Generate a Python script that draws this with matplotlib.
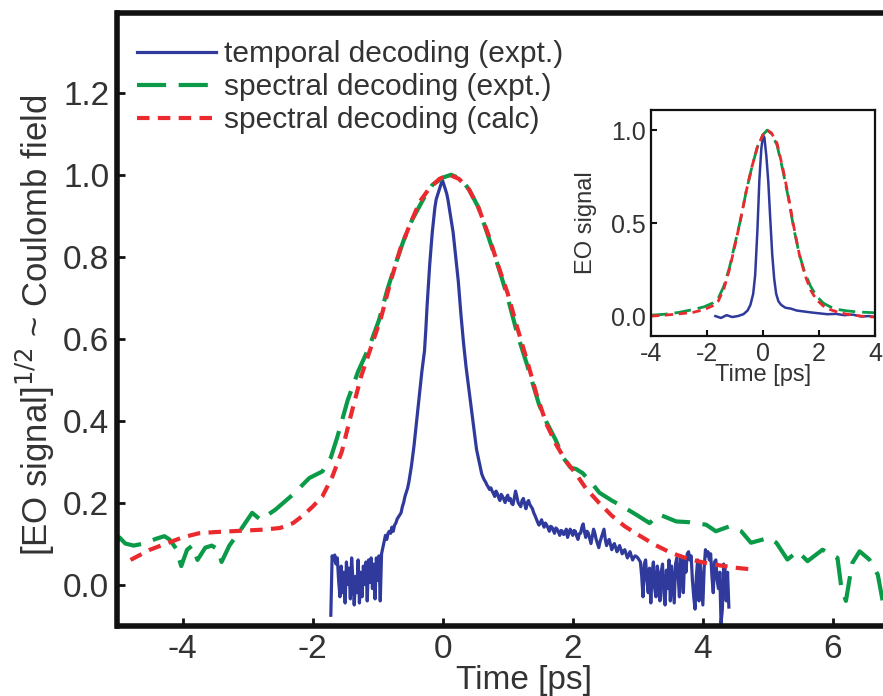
import numpy as np
import matplotlib
matplotlib.use("Agg")
import matplotlib.pyplot as plt

plt.rcParams['font.family'] = ['Liberation Sans', 'DejaVu Sans']

# ---- main panel data: sqrt(EO signal) vs time ----
# temporal decoding (expt.), sampled every 0.02 ps; stored as
# (start time, values) chunks so each part of the trace is easy to check
STEP = 0.02
blue_pre = (-1.72, [
    -0.075, 0.07, 0.06, 0.072, 0.05, 0.065, 0.01, -0.03, 0.045, -0.02,
    0.03, -0.045, 0.055, 0.0, 0.04, -0.035, 0.065, 0.01, -0.05, 0.02,
    -0.02, 0.06, -0.045, 0.03, -0.03, 0.045, 0.0, 0.055, -0.04, 0.06,
    0.005, 0.065, -0.01, 0.05, -0.035, 0.065, 0.01, 0.07, -0.04, 0.075,
])
blue_rise = (-0.92, [
    0.09, 0.105, 0.12, 0.11, 0.125, 0.13, 0.125, 0.14, 0.13, 0.145,
    0.15, 0.16, 0.165, 0.17, 0.175, 0.19, 0.20, 0.215, 0.225, 0.235,
    0.25, 0.27, 0.29, 0.315, 0.34, 0.37, 0.40, 0.43, 0.46, 0.49,
    0.52, 0.545,
])
blue_peak = (-0.28, [
    0.57, 0.62, 0.68, 0.73, 0.78, 0.82, 0.86, 0.89, 0.92, 0.94,
    0.95, 0.96, 0.97, 0.98, 0.985, 0.975, 0.965, 0.955, 0.94, 0.92,
    0.90, 0.88, 0.86, 0.83, 0.80, 0.77, 0.74, 0.70, 0.66, 0.625,
    0.59, 0.56, 0.53, 0.505, 0.48, 0.455, 0.43, 0.405, 0.38, 0.355,
    0.33, 0.315, 0.30, 0.285, 0.27,
])
blue_tail = (0.62, [
    0.262, 0.255, 0.25, 0.243, 0.238, 0.232, 0.236, 0.228, 0.222, 0.215,
    0.228, 0.222, 0.212, 0.205, 0.22, 0.215, 0.208, 0.20, 0.212, 0.218,
    0.205, 0.21, 0.198, 0.195, 0.21, 0.228, 0.215, 0.20, 0.195, 0.19,
    0.205, 0.21, 0.198, 0.185, 0.20, 0.205, 0.195, 0.19, 0.185, 0.175,
    0.168, 0.16, 0.152, 0.145, 0.15, 0.158, 0.148, 0.14, 0.15, 0.145,
    0.138, 0.13, 0.142, 0.14, 0.132, 0.125, 0.138, 0.135, 0.128, 0.12,
    0.132, 0.13, 0.122, 0.125, 0.135, 0.115, 0.125, 0.135, 0.128, 0.12,
    0.132, 0.13, 0.118, 0.11, 0.124, 0.125, 0.14, 0.148, 0.128, 0.115,
    0.13, 0.125, 0.112, 0.10, 0.118, 0.135, 0.125, 0.11, 0.10, 0.09,
    0.105, 0.115, 0.125, 0.135, 0.11, 0.095, 0.105, 0.11, 0.098, 0.085,
    0.095, 0.10, 0.09, 0.08, 0.088, 0.095, 0.085, 0.075, 0.082, 0.085,
    0.075, 0.065, 0.072, 0.08, 0.07, 0.06, 0.066, 0.07, 0.068, 0.065,
    0.06, 0.055,
])
blue_end = (3.06, [
    0.02, -0.03, 0.05, 0.06, 0.01, -0.02, 0.04, -0.045, 0.03, 0.055,
    -0.01, -0.03, 0.045, 0.02, -0.04, 0.03, 0.05, -0.02, -0.05, 0.035,
    -0.01, 0.06, -0.04, 0.045, 0.0, -0.045, 0.05, 0.065, 0.02, -0.03,
    0.07, 0.04, -0.02, 0.065, 0.03, 0.075, 0.08, 0.06, 0.07, 0.01,
    -0.03, -0.06, 0.02, 0.06, -0.04, 0.05, 0.0, -0.05, 0.04, 0.085,
    0.07, 0.08, 0.06, 0.075, 0.02, -0.02, 0.055, 0.06, 0.01, -0.01,
    0.03, -0.095, -0.06, 0.05, 0.04, -0.04, 0.03, -0.055,
])
blue_chunks = [blue_pre, blue_rise, blue_peak, blue_tail, blue_end]
blue_t = np.concatenate([np.round(t0 + STEP * np.arange(len(v)), 2)
                         for t0, v in blue_chunks])
blue_y = np.concatenate([v for _, v in blue_chunks])

# spectral decoding (expt.)
green_t = [-5.0, -4.97, -4.88, -4.75, -4.6, -4.4, -4.28, -4.2, -4.1, -4.02,
           -3.93, -3.85, -3.77, -3.65, -3.55, -3.45, -3.40, -3.28, -3.1, -2.93,
           -2.8, -2.57, -2.3, -2.05, -1.85, -1.72, -1.62, -1.46, -1.3, -1.13,
           -0.98, -0.85, -0.72, -0.6, -0.47, -0.3, -0.16, 0.0, 0.13, 0.28,
           0.41, 0.55, 0.7, 0.87, 1.0, 1.15, 1.3, 1.48, 1.6, 1.74,
           1.85, 1.97, 2.05, 2.15, 2.28, 2.41, 2.6, 2.77, 2.97, 3.18,
           3.33, 3.59, 3.8, 4.05, 4.2, 4.41, 4.59, 4.74, 5.02, 5.13,
           5.30, 5.46, 5.61, 5.84, 6.07, 6.13, 6.2, 6.25, 6.3, 6.41,
           6.56, 6.69, 6.8]
green_y = [0.105, 0.115, 0.10, 0.095, 0.10, 0.112, 0.118, 0.11, 0.088, 0.045,
           0.085, 0.095, 0.06, 0.09, 0.095, 0.085, 0.055, 0.095, 0.135, 0.175,
           0.158, 0.183, 0.22, 0.26, 0.276, 0.31, 0.36, 0.45, 0.52, 0.58,
           0.645, 0.72, 0.785, 0.84, 0.89, 0.94, 0.975, 0.993, 1.0, 0.99,
           0.963, 0.92, 0.85, 0.768, 0.70, 0.61, 0.535, 0.44, 0.395, 0.352,
           0.31, 0.285, 0.282, 0.272, 0.25, 0.224, 0.205, 0.19, 0.171, 0.15,
           0.171, 0.154, 0.152, 0.146, 0.13, 0.142, 0.13, 0.102, 0.114, 0.102,
           0.061, 0.081, 0.057, 0.085, 0.065, -0.008, -0.04, 0.008, 0.053, 0.081,
           0.061, 0.024, -0.07]

# spectral decoding (calc)
red_t = [-4.8, -4.5, -4.25, -4.0, -3.75, -3.5, -3.25, -3.0, -2.75, -2.5,
         -2.3, -2.15, -2.0, -1.85, -1.7, -1.55, -1.4, -1.25, -1.1, -0.95,
         -0.8, -0.65, -0.5, -0.35, -0.2, -0.05, 0.1, 0.25, 0.4, 0.55,
         0.7, 0.85, 1.0, 1.15, 1.3, 1.45, 1.6, 1.75, 1.9, 2.05,
         2.2, 2.4, 2.6, 2.8, 3.0, 3.25, 3.5, 3.75, 4.0, 4.25,
         4.5, 4.75]
red_y = [0.06, 0.085, 0.10, 0.115, 0.125, 0.128, 0.13, 0.132, 0.134, 0.138,
         0.15, 0.168, 0.19, 0.215, 0.262, 0.325, 0.42, 0.51, 0.58, 0.65,
         0.74, 0.82, 0.88, 0.935, 0.968, 0.99, 1.0, 0.99, 0.965, 0.92,
         0.855, 0.78, 0.71, 0.625, 0.545, 0.46, 0.39, 0.34, 0.30, 0.27,
         0.235, 0.20, 0.168, 0.142, 0.122, 0.098, 0.078, 0.064, 0.054, 0.047,
         0.041, 0.037]

# ---- inset data: EO signal vs time ----
ins_blue_t = [-1.7, -1.5, -1.3, -1.1, -0.9, -0.7, -0.55, -0.45, -0.35, -0.28,
              -0.2, -0.13, -0.06, 0.0, 0.05, 0.12, 0.19, 0.26, 0.33, 0.4,
              0.47, 0.55, 0.65, 0.8, 1.0, 1.2, 1.45, 1.7, 2.0, 2.3,
              2.6, 2.9, 3.2, 3.5, 3.8, 4.0]
ins_blue_y = [0.0, -0.01, 0.005, -0.005, 0.0, 0.01, 0.03, 0.06, 0.12, 0.22,
              0.46, 0.73, 0.90, 0.97, 0.96, 0.86, 0.72, 0.52, 0.33, 0.20,
              0.12, 0.08, 0.06, 0.045, 0.04, 0.03, 0.025, 0.02, 0.015, 0.01,
              0.012, 0.005, 0.008, -0.002, 0.0, -0.005]
ins_t = [-4.0, -3.5, -3.0, -2.5, -2.1, -1.8, -1.6, -1.4, -1.2, -1.0,
         -0.8, -0.6, -0.4, -0.2, 0.0, 0.15, 0.3, 0.5, 0.7, 0.9,
         1.1, 1.3, 1.5, 1.7, 1.9, 2.15, 2.4, 2.7, 3.0, 3.4,
         3.7, 4.0]
ins_green_y = [0.005, 0.01, 0.02, 0.035, 0.05, 0.07, 0.095, 0.16, 0.26, 0.39,
               0.52, 0.67, 0.80, 0.91, 0.975, 1.0, 0.98, 0.92, 0.79, 0.64,
               0.47, 0.33, 0.23, 0.16, 0.11, 0.07, 0.05, 0.035, 0.028, 0.022,
               0.02, 0.018]
ins_red_y = [0.0, 0.005, 0.012, 0.02, 0.035, 0.055, 0.08, 0.145, 0.25, 0.38,
             0.52, 0.67, 0.80, 0.91, 0.975, 1.0, 0.985, 0.93, 0.80, 0.65,
             0.48, 0.33, 0.22, 0.14, 0.09, 0.055, 0.035, 0.02, 0.01, 0.002,
             -0.003, -0.005]

labels = ['temporal decoding (expt.)', 'spectral decoding (expt.)',
          'spectral decoding (calc)']
x_ticks = [-4, -2, 0, 2, 4, 6]
y_ticks = [0.0, 0.2, 0.4, 0.6, 0.8, 1.0, 1.2]
ins_x_ticks = [-4, -2, 0, 2, 4]
ins_y_ticks = [0.0, 0.5, 1.0]

BLUE = '#2f3a9c'
GREEN = '#0a9a48'
RED = '#ea2a2e'
TXT = '#333333'

W, H = 883, 696
fig = plt.figure(figsize=(W / 100, H / 100), dpi=100)

# ---- main axes ----
ax = fig.add_axes([117.5 / W, 70.5 / H, 1 - 117.5 / W, (625.5 - 12.5) / H])
ax.plot(blue_t, blue_y, color=BLUE, lw=2.3, label=labels[0])
ax.plot(green_t, green_y, color=GREEN, lw=3.0, dashes=(7, 3), label=labels[1])
ax.plot(red_t, red_y, color=RED, lw=3.0, dashes=(3, 2), label=labels[2])

ax.set_xlim(-5.0, 6.77)
ax.set_ylim(-0.1, 1.396)
ax.set_xticks(x_ticks)
ax.set_xticklabels([f'{v:d}' for v in x_ticks])
ax.set_yticks(y_ticks)
ax.set_yticklabels([f'{v:.1f}' for v in y_ticks])
ax.tick_params(direction='in', length=6, width=2, colors='#111111',
               labelsize=24, labelcolor=TXT)
ax.tick_params(axis='x', pad=6)
ax.tick_params(axis='y', pad=6)
for side in ('left', 'bottom', 'top'):
    ax.spines[side].set_linewidth(4)
    ax.spines[side].set_color('#111111')
ax.spines['right'].set_visible(False)

fig.text(35 / W, 1 - 325 / H, r'[EO signal]$^{1/2}$ ~ Coulomb field',
         rotation=90, ha='center', va='center', fontsize=25, color=TXT)
fig.text(524 / W, 1 - 689 / H, 'Time [ps]', ha='center', va='baseline',
         fontsize=24, color=TXT)

leg = ax.legend(loc='upper left', bbox_to_anchor=(137 / W, 1 - 40 / H),
                bbox_transform=fig.transFigure, frameon=False, fontsize=21.5,
                handlelength=2.65, handletextpad=0.27, labelspacing=0.17,
                borderpad=0, borderaxespad=0)
for t in leg.get_texts():
    t.set_color(TXT)

# ---- inset axes ----
ax2 = fig.add_axes([651 / W, 1 - 336 / H, 224 / W, 226 / H])
ax2.plot(ins_blue_t, ins_blue_y, color=BLUE, lw=1.8)
ax2.plot(ins_t, ins_green_y, color=GREEN, lw=2.0, dashes=(6, 2.5))
ax2.plot(ins_t, ins_red_y, color=RED, lw=2.0, dashes=(3, 2))
ax2.set_xlim(-4, 4)
ax2.set_ylim(-0.107, 1.108)
ax2.set_xticks(ins_x_ticks)
ax2.set_xticklabels([f'{v:d}' for v in ins_x_ticks])
ax2.set_yticks(ins_y_ticks)
ax2.set_yticklabels([f'{v:.1f}' for v in ins_y_ticks])
ax2.tick_params(direction='in', length=4, width=1.5, colors='#111111',
                labelsize=18, labelcolor=TXT)
ax2.tick_params(axis='x', pad=4)
ax2.tick_params(axis='y', pad=4)
for s in ax2.spines.values():
    s.set_linewidth(1.6)
    s.set_color('#111111')
ax2.set_xlabel('Time [ps]', fontsize=17, color=TXT, labelpad=-1)
ax2.set_ylabel('EO signal', fontsize=17, color=TXT)
ax2.yaxis.set_label_coords((597 - 651) / 224, 0.5)

fig.savefig('out.png', dpi=100)
